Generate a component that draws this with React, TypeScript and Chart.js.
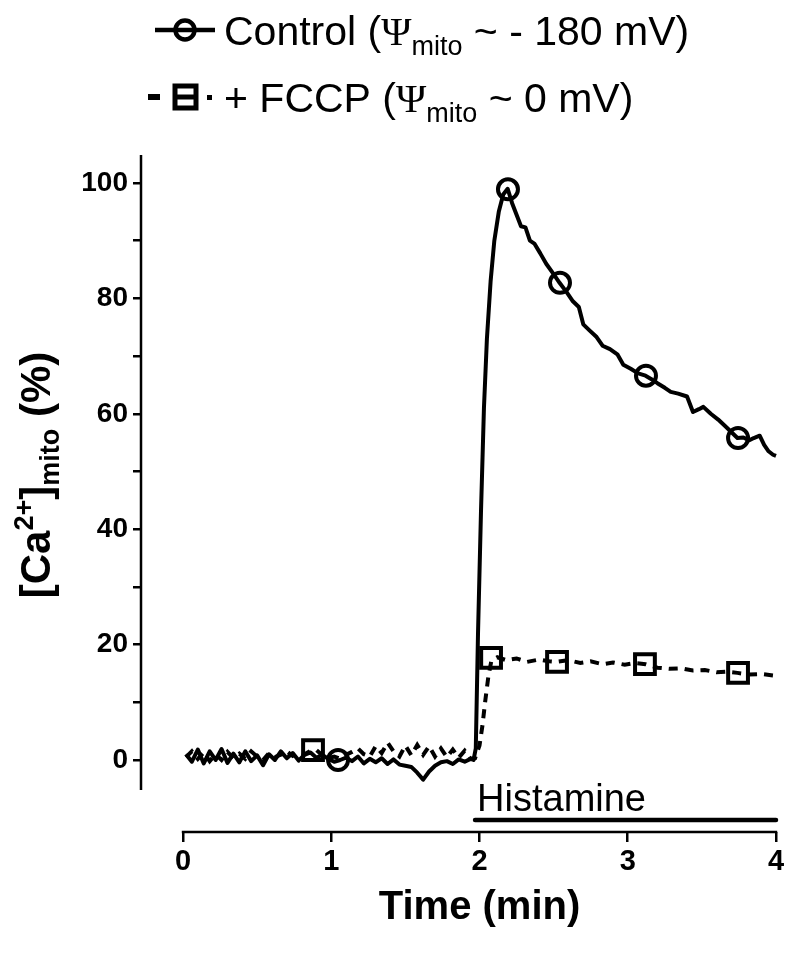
import React, { useEffect, useRef } from 'react';
import { Chart, registerables } from 'chart.js';

Chart.register(...registerables);

// ---- data (time in min, value in %) ----
const controlTime = [
  0.02, 0.06, 0.10, 0.14, 0.18, 0.22, 0.26, 0.30, 0.34, 0.38,
  0.42, 0.46, 0.50, 0.54, 0.58, 0.62, 0.66, 0.70, 0.74, 0.78,
  0.82, 0.86, 0.90, 0.94, 0.98, 1.02, 1.06, 1.10, 1.14, 1.18,
  1.22, 1.26, 1.30, 1.34, 1.38, 1.42, 1.46, 1.50, 1.54, 1.58,
  1.62, 1.66, 1.70, 1.74, 1.78, 1.82, 1.86, 1.90, 1.94, 1.96,
  1.975, 1.99, 2.01, 2.03, 2.05, 2.075, 2.10, 2.13, 2.16, 2.19,
  2.22, 2.25, 2.28, 2.31, 2.34, 2.37, 2.41, 2.45, 2.50, 2.54,
  2.59, 2.63, 2.67, 2.70, 2.74, 2.79, 2.83, 2.88, 2.93, 2.97,
  3.02, 3.07, 3.12, 3.16, 3.20, 3.25, 3.29, 3.34, 3.40, 3.44,
  3.48, 3.51, 3.56, 3.61, 3.66, 3.70, 3.74, 3.78, 3.82, 3.85,
  3.89, 3.92, 3.95, 3.98, 4.0,
];
const controlValue = [
  1.0, -0.3, 1.8, -0.6, 1.5, 0.0, 1.9, -0.5, 1.1, -0.4,
  1.5, -0.2, 0.8, -0.9, 1.0, 0.0, 1.5, 0.3, 1.2, -0.1,
  0.9, 1.3, 0.4, 0.9, 0.2, -0.3, 0.0, 0.4, -0.2, 0.6,
  -0.6, 0.2, -0.4, 0.3, -0.7, 0.1, -0.8, -1.0, -1.2, -2.2,
  -3.4, -2.0, -1.0, -0.4, -0.2, -0.7, 0.1, -0.3, 0.2, 0.0,
  2, 22, 43, 61, 73, 83, 90, 95, 98, 99,
  96.5, 94.5, 92.5, 92.3, 90, 89.5, 87.8, 86, 84.2, 82.7,
  81, 79.5, 78.5, 75.5, 74.5, 73.3, 71.8, 71.2, 70.3, 68.5,
  67.8, 67, 66.6, 66, 65.3, 64.5, 63.8, 63.5, 63, 60.3,
  60.8, 61.2, 60, 59, 57.8, 56.8, 55.8, 55.9, 55.4, 55.8,
  56.2, 54.6, 53.5, 52.9, 52.7,
];

const fccpTime = [
  0.02, 0.06, 0.10, 0.14, 0.18, 0.22, 0.26, 0.30, 0.34, 0.38,
  0.42, 0.46, 0.50, 0.54, 0.58, 0.62, 0.66, 0.70, 0.74, 0.78,
  0.82, 0.86, 0.90, 0.94, 0.98, 1.02, 1.06, 1.10, 1.14, 1.18,
  1.22, 1.26, 1.30, 1.34, 1.38, 1.42, 1.46, 1.50, 1.54, 1.58,
  1.62, 1.66, 1.70, 1.74, 1.78, 1.82, 1.86, 1.90, 1.94, 1.97,
  2.00, 2.02, 2.04, 2.06, 2.08, 2.12, 2.18, 2.25, 2.32, 2.40,
  2.47, 2.52, 2.60, 2.68, 2.75, 2.83, 2.90, 2.98, 3.05, 3.12,
  3.20, 3.28, 3.36, 3.44, 3.52, 3.60, 3.67, 3.74, 3.82, 3.90, 4.0,
];
const fccpValue = [
  0.5, 1.5, 0.2, 1.3, -0.2, 1.0, 0.0, 1.4, 0.3, 1.1,
  0.2, 1.5, 0.6, 0.0, 1.2, 0.5, 0.9, 1.5, 0.7, 1.3,
  1.0, 1.6, 1.7, 0.8, 0.3, 0.6, 0.2, 0.9, 1.4, 2.0,
  1.0, 0.6, 2.4, 1.2, 3.0, 1.5, 0.6, 2.5, 0.8, 2.6,
  0.9, 2.4, 0.6, 2.0, 0.5, 1.8, 0.4, 1.6, 0.2, 0.3,
  2.5, 6, 10.5, 14.5, 17.2, 17.8, 17.3, 17.6, 17.0, 17.4,
  17.1, 17.0, 17.3, 16.8, 17.1, 16.6, 16.9, 16.5, 16.8, 16.6,
  16.0, 15.8, 15.9, 15.5, 15.6, 15.2, 15.3, 15.1, 14.8, 14.9, 14.6,
];

const controlMarkerTime = [1.046, 2.192, 2.543, 3.123, 3.744];
const controlMarkerValue = [0, 98.9, 82.7, 66.6, 55.8];
const fccpMarkerTime = [0.877, 2.078, 2.523, 3.116, 3.744];
const fccpMarkerValue = [1.7, 17.7, 17.0, 16.6, 15.1];

const xTickValues = [0, 1, 2, 3, 4];
const yTickValues = [0, 20, 40, 60, 80, 100];
const yMinorTickValues = [10, 30, 50, 70, 90];

const histamineStart = 1.97;
const histamineEnd = 4.0;

const SANS = '"Liberation Sans", Arial, Helvetica, sans-serif';
const SERIF = '"Liberation Serif", "Times New Roman", serif';

type Run = { t: string; size: number; bold?: boolean; dy?: number; family?: string };

function runFont(r: Run) {
  return `${r.bold ? 'bold ' : ''}${r.size}px ${r.family || SANS}`;
}

function drawRuns(ctx: CanvasRenderingContext2D, runs: Run[], x: number, y: number, align: 'left' | 'center') {
  ctx.save();
  ctx.textBaseline = 'alphabetic';
  ctx.textAlign = 'left';
  ctx.fillStyle = '#000';
  let w = 0;
  for (const r of runs) {
    ctx.font = runFont(r);
    w += ctx.measureText(r.t).width;
  }
  let cx = align === 'center' ? x - w / 2 : x;
  for (const r of runs) {
    ctx.font = runFont(r);
    ctx.fillText(r.t, cx, y + (r.dy || 0));
    cx += ctx.measureText(r.t).width;
  }
  ctx.restore();
}

const decorPlugin = {
  id: 'decor',
  afterDraw(chart: any) {
    const { ctx, chartArea, scales } = chart;
    const xs = scales.x;
    const ys = scales.y;
    ctx.save();
    ctx.strokeStyle = '#000';
    ctx.fillStyle = '#000';
    // y axis line
    ctx.lineWidth = 2.5;
    ctx.beginPath();
    ctx.moveTo(chartArea.left, ys.getPixelForValue(104.85));
    ctx.lineTo(chartArea.left, ys.getPixelForValue(-5.2));
    ctx.stroke();
    // x axis line
    ctx.beginPath();
    ctx.moveTo(xs.getPixelForValue(0) - 1.2, chartArea.bottom);
    ctx.lineTo(xs.getPixelForValue(4) + 1.2, chartArea.bottom);
    ctx.stroke();
    // histamine bar
    ctx.lineWidth = 4.5;
    ctx.lineCap = 'round';
    ctx.beginPath();
    ctx.moveTo(xs.getPixelForValue(histamineStart), chartArea.bottom - 12);
    ctx.lineTo(xs.getPixelForValue(histamineEnd), chartArea.bottom - 12);
    ctx.stroke();
    ctx.restore();

    drawRuns(ctx, [{ t: 'Histamine', size: 38 }], xs.getPixelForValue(histamineStart) + 2, chartArea.bottom - 21, 'left');

    // x title
    drawRuns(ctx, [{ t: 'Time (min)', size: 40, bold: true }], (xs.getPixelForValue(0) + xs.getPixelForValue(4)) / 2, 919, 'center');

    // y title (rotated)
    ctx.save();
    ctx.translate(50, 475);
    ctx.rotate(-Math.PI / 2);
    drawRuns(ctx, [
      { t: '[Ca', size: 42, bold: true },
      { t: '2+', size: 27, bold: true, dy: -17 },
      { t: ']', size: 42, bold: true },
      { t: 'mito', size: 27, bold: true, dy: 9 },
      { t: ' (%)', size: 42, bold: true },
    ], 0, 0, 'center');
    ctx.restore();

    // legend
    ctx.save();
    ctx.strokeStyle = '#000';
    ctx.fillStyle = '#000';
    ctx.lineWidth = 4.5;
    ctx.beginPath();
    ctx.moveTo(155, 30);
    ctx.lineTo(215, 30);
    ctx.stroke();
    ctx.beginPath();
    ctx.arc(185, 30, 9.5, 0, Math.PI * 2);
    ctx.stroke();
    // second entry
    ctx.fillRect(148, 94, 12, 6);
    ctx.lineWidth = 5;
    ctx.beginPath();
    ctx.rect(175, 86, 21, 22);
    ctx.stroke();
    ctx.beginPath();
    ctx.moveTo(175, 97);
    ctx.lineTo(196, 97);
    ctx.stroke();
    ctx.fillRect(207, 95, 5, 5);
    ctx.restore();

    drawRuns(ctx, [
      { t: 'Control (', size: 41 },
      { t: 'Ψ', size: 41, family: SERIF },
      { t: 'mito', size: 27, dy: 10 },
      { t: ' ~ - 180 mV)', size: 41 },
    ], 224, 45, 'left');
    drawRuns(ctx, [
      { t: '+ FCCP (', size: 41 },
      { t: 'Ψ', size: 41, family: SERIF },
      { t: 'mito', size: 27, dy: 10 },
      { t: ' ~ 0 mV)', size: 41 },
    ], 224, 112, 'left');
  },
};

export default function App() {
  const canvasRef = useRef<HTMLCanvasElement | null>(null);

  useEffect(() => {
    if (!canvasRef.current) return;
    const toXY = (ts: number[], vs: number[]) => ts.map((t, i) => ({ x: t, y: vs[i] }));
    const chart = new Chart(canvasRef.current, {
      type: 'line',
      data: {
        datasets: [
          {
            label: 'Control',
            data: toXY(controlTime, controlValue),
            borderColor: '#000',
            borderWidth: 4,
            pointRadius: 0,
            tension: 0,
            fill: false,
            clip: false,
            borderJoinStyle: 'round',
          } as any,
          {
            label: '+ FCCP',
            data: toXY(fccpTime, fccpValue),
            borderColor: '#000',
            borderWidth: 4,
            borderDash: [9, 7],
            pointRadius: 0,
            tension: 0,
            fill: false,
            clip: false,
          } as any,
          {
            label: 'Control markers',
            data: toXY(controlMarkerTime, controlMarkerValue),
            showLine: false,
            pointStyle: 'circle',
            pointRadius: 10,
            pointBorderWidth: 4,
            pointBorderColor: '#000',
            pointBackgroundColor: 'rgba(0,0,0,0)',
            clip: false,
          } as any,
          {
            label: 'FCCP markers',
            data: toXY(fccpMarkerTime, fccpMarkerValue),
            showLine: false,
            pointStyle: 'rect',
            pointRadius: 14,
            pointBorderWidth: 4,
            pointBorderColor: '#000',
            pointBackgroundColor: 'rgba(0,0,0,0)',
            clip: false,
          } as any,
        ],
      },
      options: {
        responsive: false,
        animation: false,
        devicePixelRatio: 1,
        layout: { padding: { top: 155, right: 24, left: 0, bottom: 0 } },
        plugins: { legend: { display: false }, tooltip: { enabled: false } },
        scales: {
          x: {
            type: 'linear',
            min: -0.2833,
            max: 4.0,
            border: { display: false },
            grid: { drawOnChartArea: false, drawTicks: true, tickLength: 10, color: '#000', lineWidth: 2.5 },
            ticks: {
              autoSkip: false,
              maxRotation: 0,
              padding: 3,
              color: '#000',
              font: { family: SANS, size: 29, weight: 'bold' },
              callback: (v: any) => String(v),
            },
            afterBuildTicks: (s: any) => {
              s.ticks = xTickValues.map((v) => ({ value: v }));
            },
            afterFit: (s: any) => {
              s.height = 121;
            },
          },
          y: {
            type: 'linear',
            min: -12.48,
            max: 104.85,
            border: { display: false },
            grid: { drawOnChartArea: false, drawTicks: true, tickLength: 8, color: '#000', lineWidth: 2.5 },
            ticks: {
              autoSkip: false,
              padding: 5,
              color: '#000',
              font: { family: SANS, size: 28, weight: 'bold' },
              callback: (v: any) => (yTickValues.includes(Number(v)) ? String(v) : ''),
            },
            afterBuildTicks: (s: any) => {
              s.ticks = [...yTickValues, ...yMinorTickValues].sort((a, b) => a - b).map((v) => ({ value: v }));
            },
            afterFit: (s: any) => {
              s.width = 141;
            },
          },
        },
      } as any,
      plugins: [decorPlugin],
    });
    return () => chart.destroy();
  }, []);

  return (
    <div style={{ position: 'absolute', left: 0, top: 0, width: 800, height: 953, background: '#fff' }}>
      <canvas ref={canvasRef} width={800} height={953} style={{ display: 'block' }} />
    </div>
  );
}
